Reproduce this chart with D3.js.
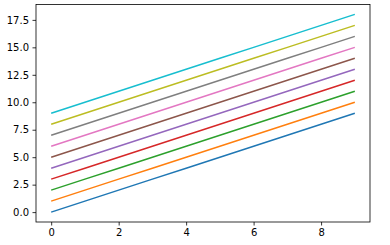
<!DOCTYPE html>
<html><head><meta charset="utf-8">
<script src="https://cdn.jsdelivr.net/npm/d3@7"></script>
<style>body{margin:0;background:#fff}</style>
</head><body>
<svg id="c" width="390" height="245"></svg>
<script>
const xs = [0,1,2,3,4,5,6,7,8,9];
const offsets = [0,1,2,3,4,5,6,7,8,9];
const colors = ["#1f77b4","#ff7f0e","#2ca02c","#d62728","#9467bd","#8c564b","#e377c2","#7f7f7f","#bcbd22","#17becf"];
const xTicks = [0,2,4,6,8];
const yTicks = [0,2.5,5,7.5,10,12.5,15,17.5];

const svg = d3.select("#c");
const L=36, R=370, T=4.5, B=222;
const x = d3.scaleLinear().domain([-0.45,9.45]).range([L,R]);
const y = d3.scaleLinear().domain([-0.9,18.9]).range([B,T]);
const line = d3.line().x(d=>x(d[0])).y(d=>y(d[1]));
offsets.forEach((o,i)=>{
  svg.append("path").attr("d", line(xs.map(v=>[v, v+o])))
    .attr("fill","none").attr("stroke",colors[i]).attr("stroke-width",1.5);
});
const xa = svg.append("g").attr("transform",`translate(0,${B})`)
  .call(d3.axisBottom(x).tickValues(xTicks).tickFormat(d3.format("d")).tickSize(3.5).tickPadding(3.5));
const ya = svg.append("g").attr("transform",`translate(${L},0)`)
  .call(d3.axisLeft(y).tickValues(yTicks).tickFormat(d3.format(".1f")).tickSize(3.5).tickPadding(3.5));
[xa,ya].forEach(a=>{
  a.select(".domain").remove();
  a.selectAll("text").attr("font-family","DejaVu Sans").attr("font-size","10px").attr("fill","#000");
  a.selectAll("line").attr("stroke","#000").attr("stroke-width",0.8);
});
svg.append("rect").attr("x",L).attr("y",T).attr("width",R-L).attr("height",B-T)
  .attr("fill","none").attr("stroke","#000").attr("stroke-width",0.8);
</script>
</body></html>
